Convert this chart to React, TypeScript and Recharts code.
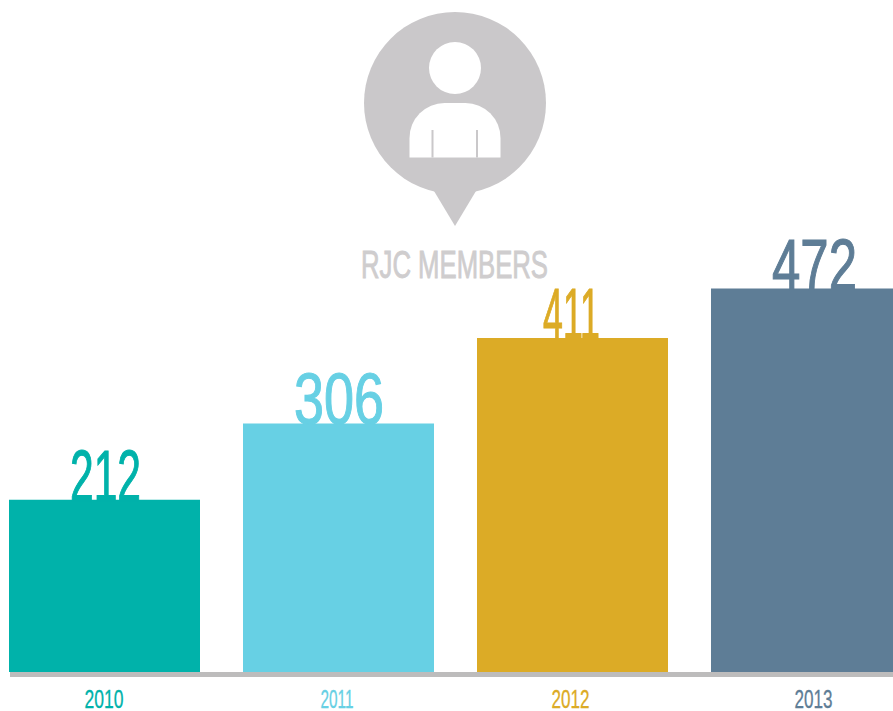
import React from "react";
import { BarChart, Bar, XAxis, YAxis, Cell, LabelList } from "recharts";

const years = ["2010", "2011", "2012", "2013"];
const members = [212, 306, 411, 472];
const colors = ["#00b2aa", "#67d0e4", "#dcab26", "#5e7d96"];
const rows = years.map((year, i) => ({ year, members: members[i] }));

const FONT = "'Liberation Sans Narrow', 'Liberation Sans', sans-serif";
const valueWidths = [71, 90, 57, 85];
const tickWidths = [39, 33, 38, 38];
const labelShift = [1, 0.5, -1, 8];
const tickShift = [0, -1, -1.5, 7.5];
const ICON = "#cac8ca";

const ValueLabel = (p: any) => {
  const i = p.index;
  return (
    <text
      x={p.x + p.width / 2 + labelShift[i]}
      y={p.y + 1}
      textAnchor="middle"
      fontFamily={FONT}
      fontSize={73}
      fill={colors[i]}
      stroke={colors[i]}
      strokeWidth={1.2}
      textLength={valueWidths[i]}
      lengthAdjust="spacingAndGlyphs"
    >
      {p.value}
    </text>
  );
};

const YearTick = (p: any) => {
  const i = p.index;
  return (
    <text
      x={p.x + tickShift[i]}
      y={708}
      textAnchor="middle"
      fontFamily={FONT}
      fontSize={25}
      fill={colors[i]}
      stroke={colors[i]}
      strokeWidth={0.3}
      textLength={tickWidths[i]}
      lengthAdjust="spacingAndGlyphs"
    >
      {p.payload.value}
    </text>
  );
};

export default function App() {
  return (
    <div style={{ position: "absolute", left: 0, top: 0, width: 893, height: 711, overflow: "hidden", background: "#fff" }}>
      <div style={{ position: "absolute", left: -20, top: 0 }}>
        <BarChart
          width={960}
          height={711}
          data={rows}
          margin={{ top: 22, right: 17, bottom: 0, left: 7 }}
        >
          <YAxis hide domain={[0, 800]} />
          <XAxis
            dataKey="year"
            height={39}
            tickLine={false}
            interval={0}
            tick={<YearTick />}
            axisLine={{ stroke: "#bdbcbc", strokeWidth: 5, strokeDasharray: "0 23 2000", transform: "translate(0, 2.5)" }}
          />
          <Bar dataKey="members" barSize={191} isAnimationActive={false}>
            {rows.map((r, i) => (
              <Cell key={r.year} fill={colors[i]} />
            ))}
            <LabelList dataKey="members" content={<ValueLabel />} />
          </Bar>
        </BarChart>
      </div>
      <svg width={893} height={711} style={{ position: "absolute", left: 0, top: 0 }}>
        <circle cx={455} cy={103} r={91} fill={ICON} />
        <path d="M431 186 L455 226 L479 186 Z" fill={ICON} />
        <circle cx={455} cy={68} r={26} fill="#fff" />
        <path d="M409.5 157.5 V138 A35 35 0 0 1 444.5 103 H465.5 A35 35 0 0 1 500.5 138 V157.5 Z" fill="#fff" />
        <rect x={431.5} y={130} width={2} height={27.5} fill={ICON} />
        <rect x={476} y={130} width={2} height={27.5} fill={ICON} />
        <text
          x={454.5}
          y={278}
          textAnchor="middle"
          fontFamily={FONT}
          fontSize={39}
          fill="#cfcdce"
          stroke="#cfcdce"
          strokeWidth={0.9}
          textLength={187}
          lengthAdjust="spacingAndGlyphs"
        >
          RJC MEMBERS
        </text>
      </svg>
    </div>
  );
}
